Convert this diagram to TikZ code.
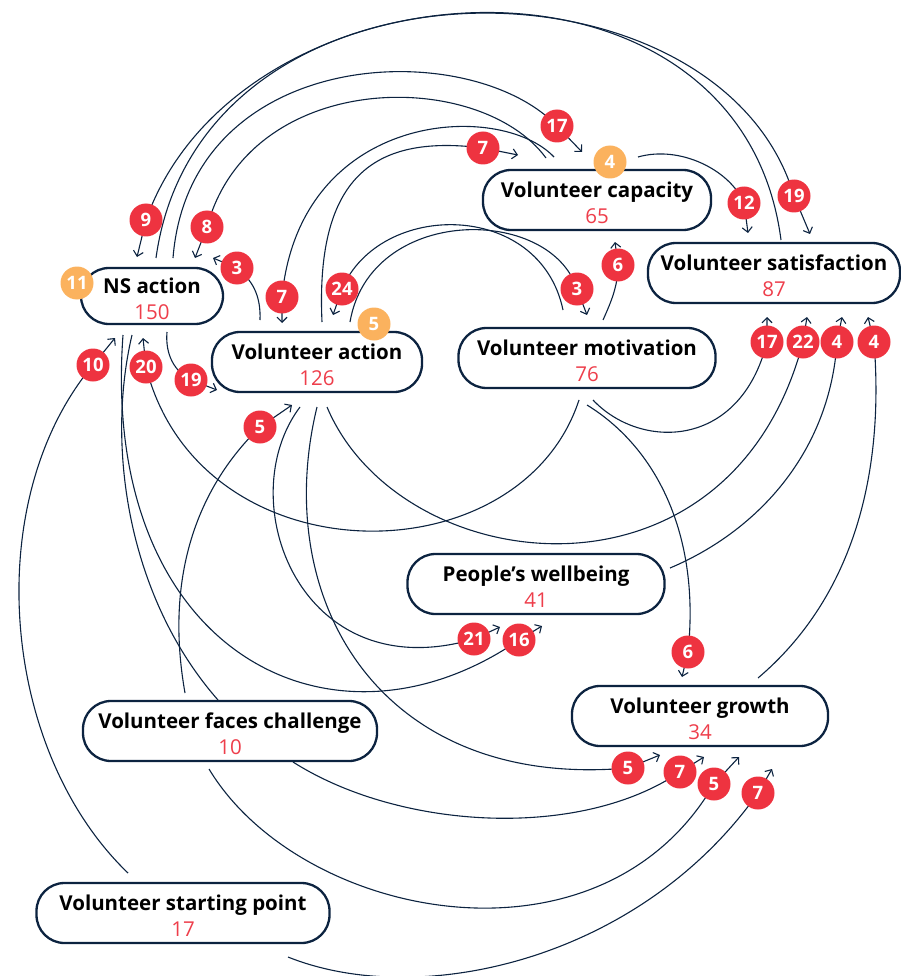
\documentclass[tikz,border=0pt]{standalone}
\usepackage{fontspec}
\setmainfont{Open Sans}
\usetikzlibrary{arrows.meta,calc,backgrounds}
\definecolor{navy}{HTML}{0C2340}
\definecolor{badgered}{HTML}{EE3340}
\definecolor{numred}{HTML}{EE3E4B}
\definecolor{orng}{HTML}{FBB25E}
\newcommand\bxt[2]{\rule{0pt}{21pt}\textbf{#1}\\{\color{numred}#2}}
\begin{document}
\begin{tikzpicture}[x=1pt,y=-1pt,
 box/.style={draw=navy,line width=2.3pt,rounded corners=28pt,fill=white,minimum height=60pt,inner sep=0pt,align=center,font=\fontsize{20.5}{25.5}\selectfont},
 badge/.style={circle,fill=badgered,text=white,minimum size=33pt,inner sep=0pt,font=\fontsize{18.5}{18.5}\selectfont\bfseries},
 obadge/.style={badge,fill=orng},
 edge/.style={draw=navy,line width=1.1pt},
 arr/.style={edge,-{Straight Barb[length=5pt,width=10pt]}}
]
\useasboundingbox (0,0) rectangle (901,976);
\clip (0,0) rectangle (901,976);
% boxes
\node[box,minimum width=142pt,minimum height=56pt] (nsa) at (152,296) {\bxt{NS action}{150}};
\node[box,minimum width=210pt] (va) at (317,362) {\bxt{Volunteer action}{126}};
\node[box,minimum width=228pt] (cap) at (597,200) {\bxt{Volunteer capacity}{65}};
\node[box,minimum width=252pt] (sat) at (774,273) {\bxt{Volunteer satisfaction}{87}};
\node[box,minimum width=257pt] (mot) at (587,358) {\bxt{Volunteer motivation}{76}};
\node[box,minimum width=257pt] (wb) at (536,584) {\bxt{People’s wellbeing}{41}};
\node[box,minimum width=256pt] (gr) at (700,716) {\bxt{Volunteer growth}{34}};
\node[box,minimum width=294pt] (fc) at (230,731) {\bxt{Volunteer faces challenge}{10}};
\node[box,minimum width=293pt] (sp) at (183,913) {\bxt{Volunteer starting point}{17}};
% orange badges
\node[obadge] (o11) at (77,283) {11};
\node[obadge] (o5) at (374,324) {5};
\node[obadge] (o4) at (610,162) {4};
% red badges
\node[badge] (b9) at (146,220) {9};
\node[badge] (b8) at (207,227) {8};
\node[badge] (b3a) at (237,268) {3};
\node[badge] (b7a) at (282,297) {7};
\node[badge] (b24) at (342,289) {24};
\node[badge] (b17a) at (557,126) {17};
\node[badge] (b7b) at (483,148) {7};
\node[badge] (b12) at (744,203) {12};
\node[badge] (b19a) at (794,196) {19};
\node[badge] (b3b) at (577,289) {3};
\node[badge] (b6a) at (618,265) {6};
\node[badge] (b10) at (93,365) {10};
\node[badge] (b20) at (146,367) {20};
\node[badge] (b19b) at (191,380) {19};
\node[badge] (b5a) at (260,427) {5};
\node[badge] (b17b) at (767,342) {17};
\node[badge] (b22) at (803,342) {22};
\node[badge] (b4a) at (837,342) {4};
\node[badge] (b4b) at (874,342) {4};
\node[badge] (b21) at (474,639) {21};
\node[badge] (b16) at (519,640) {16};
\node[badge] (b6b) at (688,652) {6};
\node[badge] (b5b) at (628,768) {5};
\node[badge] (b7c) at (680,772) {7};
\node[badge] (b5c) at (714,784) {5};
\node[badge] (b7d) at (758,793) {7};
\begin{pgfonlayer}{background}
\clip (0,0) rectangle (901,976);
\draw[arr] ($(sat)+(7,-33)$) .. controls (740,-75) and (240,-45) .. (b9.center) -- ($(nsa)+(-15,-39)$);
\draw[arr] ($(nsa)+(4,-38)$) .. controls (200,-60) and (720,-55) .. (b19a.center) -- ($(sat)+(36,-39)$);
\draw[arr] ($(nsa)+(21,-38)$) .. controls (190,45) and (470,35) .. (b17a.center) -- ($(cap)+(-15,-48)$);
\draw[arr] ($(cap)+(-51,-42)$) .. controls (480,68) and (250,68) .. (b8.center) -- ($(nsa)+(43,-38)$);
\draw[arr] ($(cap)+(-43,-43)$) .. controls (500,100) and (300,110) .. (b7a.center) -- ($(va)+(-35,-39)$);
\draw[arr] ($(va)+(5,-40)$) .. controls (315,170) and (380,135) .. (b7b.center) -- ($(cap)+(-79,-45)$);
\draw[arr] ($(cap)+(41,-43)$) .. controls (680,145) and (730,170) .. (b12.center) -- ($(sat)+(-26,-40)$);
\draw[arr] ($(mot)+(16,-38)$) .. controls (612,300) and (618,285) .. (b6a.center) -- ($(cap)+(18,42)$);
\draw[arr] ($(va)+(-57,-42)$) .. controls (261,295) and (252,280) .. (b3a.center) -- ($(nsa)+(61,-38)$);
\draw[arr] ($(nsa)+(15,36)$) .. controls (165,355) and (175,372) .. (b19b.center) -- ($(va)+(-100,28)$);
\draw[arr] ($(sp)+(-55,-40)$) .. controls (0,750) and (-20,500) .. (b10.center) -- ($(nsa)+(-37,42)$);
\draw[arr] ($(mot)+(-8,42)$) .. controls (520,580) and (200,580) .. (b20.center) -- ($(nsa)+(-9,42)$);
\draw[arr] ($(nsa)+(-29,39)$) .. controls (100,650) and (330,770) .. (b16.center) -- ($(wb)+(6,42)$);
\draw[edge] ($(nsa)+(-20,39)$) .. controls (105,450) and (130,600) .. ($(fc)+(-12,-31)$);
\draw[arr] ($(fc)+(-45,-38)$) .. controls (165,580) and (195,490) .. (b5a.center) -- ($(va)+(-25,43)$);
\draw[arr] ($(va)+(-17,45)$) .. controls (230,500) and (300,690) .. (b21.center) -- ($(wb)+(-36,43)$);
\draw[arr] ($(va)+(0,45)$) .. controls (270,600) and (380,790) .. (b5b.center) -- ($(gr)+(-40,39)$);
\draw[arr] ($(va)+(10,45)$) .. controls (400,580) and (730,620) .. (b22.center) -- ($(sat)+(33,44)$);
\draw[arr] ($(mot)+(6,42)$) .. controls (640,450) and (740,450) .. (b17b.center) -- ($(sat)+(-7,44)$);
\draw[arr] ($(mot)+(0,47)$) .. controls (660,450) and (700,540) .. (b6b.center) -- ($(gr)+(-18,-39)$);
\draw[arr] ($(wb)+(134,-16)$) .. controls (760,530) and (830,450) .. (b4a.center) -- ($(sat)+(68,44)$);
\draw[arr] ($(gr)+(58,-38)$) .. controls (850,600) and (885,480) .. (b4b.center) -- ($(sat)+(94,44)$);
\draw[arr] ($(fc)+(63,31)$) .. controls (400,830) and (580,840) .. (b7c.center) -- ($(gr)+(4,41)$);
\draw[arr] ($(fc)+(-21,38)$) .. controls (300,920) and (600,980) .. (b5c.center) -- ($(gr)+(39,41)$);
\draw[arr] ($(sp)+(105,44)$) .. controls (420,1010) and (640,960) .. (b7d.center) -- ($(gr)+(72,53)$);
\draw[arr] ($(mot)+(-24,-48)$) .. controls (540,200) and (380,200) .. (b24.center) -- ($(va)+(16,-47)$);
\draw[arr] ($(va)+(33,-40)$) .. controls (370,205) and (550,205) .. (b3b.center) -- ($(mot)+(0,-43)$);
\end{pgfonlayer}
\end{tikzpicture}
\end{document}
